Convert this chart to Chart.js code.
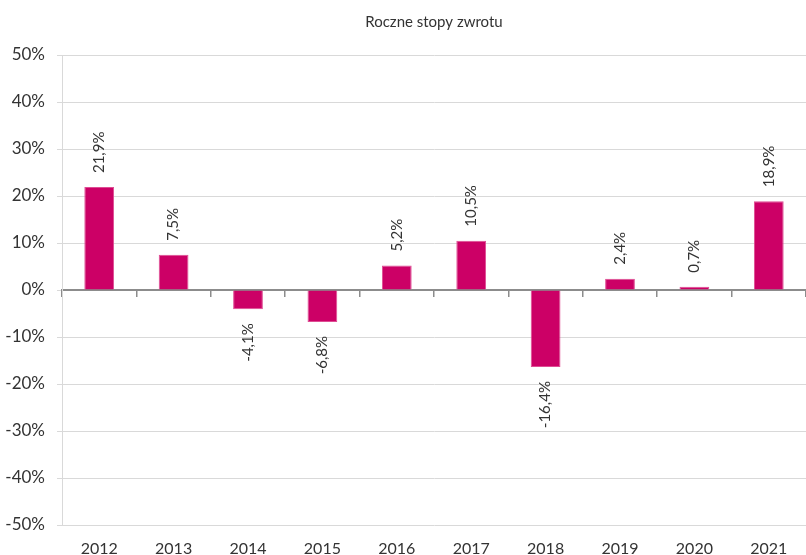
<!DOCTYPE html>
<html>
<head>
<meta charset="utf-8">
<script src="https://cdn.jsdelivr.net/npm/chart.js@4/dist/chart.umd.min.js"></script>
<style>
  html, body { margin:0; padding:0; background:#fff; }
  #wrap { width:806px; height:555px; }
</style>
</head>
<body>
<div id="wrap"><canvas id="c" width="806" height="555"></canvas></div>
<script>
const years = ["2012","2013","2014","2015","2016","2017","2018","2019","2020","2021"];
const returns = [21.9, 7.5, -4.1, -6.8, 5.2, 10.5, -16.4, 2.4, 0.7, 18.9];
const yTicks = [-50, -40, -30, -20, -10, 0, 10, 20, 30, 40, 50];

const FONT = "Lato, 'Open Sans', sans-serif";
const pct = v => String(v).replace(".", ",") + "%";

// rotated value labels above / below each bar
const barLabels = {
  id: "barLabels",
  afterDatasetsDraw(chart){
    const ctx = chart.ctx;
    const meta = chart.getDatasetMeta(0);
    ctx.save();
    ctx.fillStyle = "#333";
    ctx.font = "15px " + FONT;
    ctx.textBaseline = "middle";
    meta.data.forEach((bar, i) => {
      const v = returns[i];
      ctx.save();
      if(v >= 0){
        ctx.translate(bar.x, bar.y - 14);
        ctx.rotate(-Math.PI/2);
        ctx.textAlign = "left";
      } else {
        ctx.translate(bar.x, bar.y + 14);
        ctx.rotate(-Math.PI/2);
        ctx.textAlign = "right";
      }
      ctx.fillText(pct(v), 0, 0);
      ctx.restore();
    });
    ctx.restore();
  }
};

new Chart(document.getElementById("c"), {
  type: "bar",
  data: {
    labels: years,
    datasets: [{
      data: returns,
      backgroundColor: "#CC0066",
      borderColor: "#DE4C93",
      borderWidth: 1,
      categoryPercentage: 1,
      barPercentage: 0.4
    }]
  },
  options: {
    responsive: false,
    animation: false,
    layout: { padding: { top: 0, right: 0, bottom: 0, left: 0 } },
    plugins: {
      legend: { display: false },
      tooltip: { enabled: false },
      title: {
        display: true,
        text: "Roczne stopy zwrotu",
        fullSize: false,
        color: "#333",
        font: { family: FONT, size: 15, weight: "normal", lineHeight: 1.2 },
        padding: { top: 13, bottom: 24 }
      }
    },
    scales: {
      x: {
        grid: { display: false },
        border: { display: false },
        ticks: { color: "#333", font: { family: FONT, size: 16 }, padding: 6 },
        afterFit(s){ s.height = 30; }
      },
      x0: {
        type: "category",
        labels: years,
        position: { y: 0 },
        ticks: { display: false },
        grid: { drawOnChartArea: false, offset: true, tickLength: 6, color: "#8c8c8c", lineWidth: 1.5 },
        border: { color: "#8c8c8c", width: 2 }
      },
      y: {
        min: -50, max: 50,
        afterBuildTicks(s){ s.ticks = yTicks.map(v => ({ value: v })); },
        grid: { color: "#d9d9d9", tickLength: 5 },
        border: { color: "#d9d9d9" },
        ticks: {
          color: "#333",
          font: { family: FONT, size: 17 },
          padding: 12,
          callback: v => v + "%"
        },
        afterFit(s){ s.width = 62; }
      }
    }
  },
  plugins: [barLabels]
});
</script>
</body>
</html>
